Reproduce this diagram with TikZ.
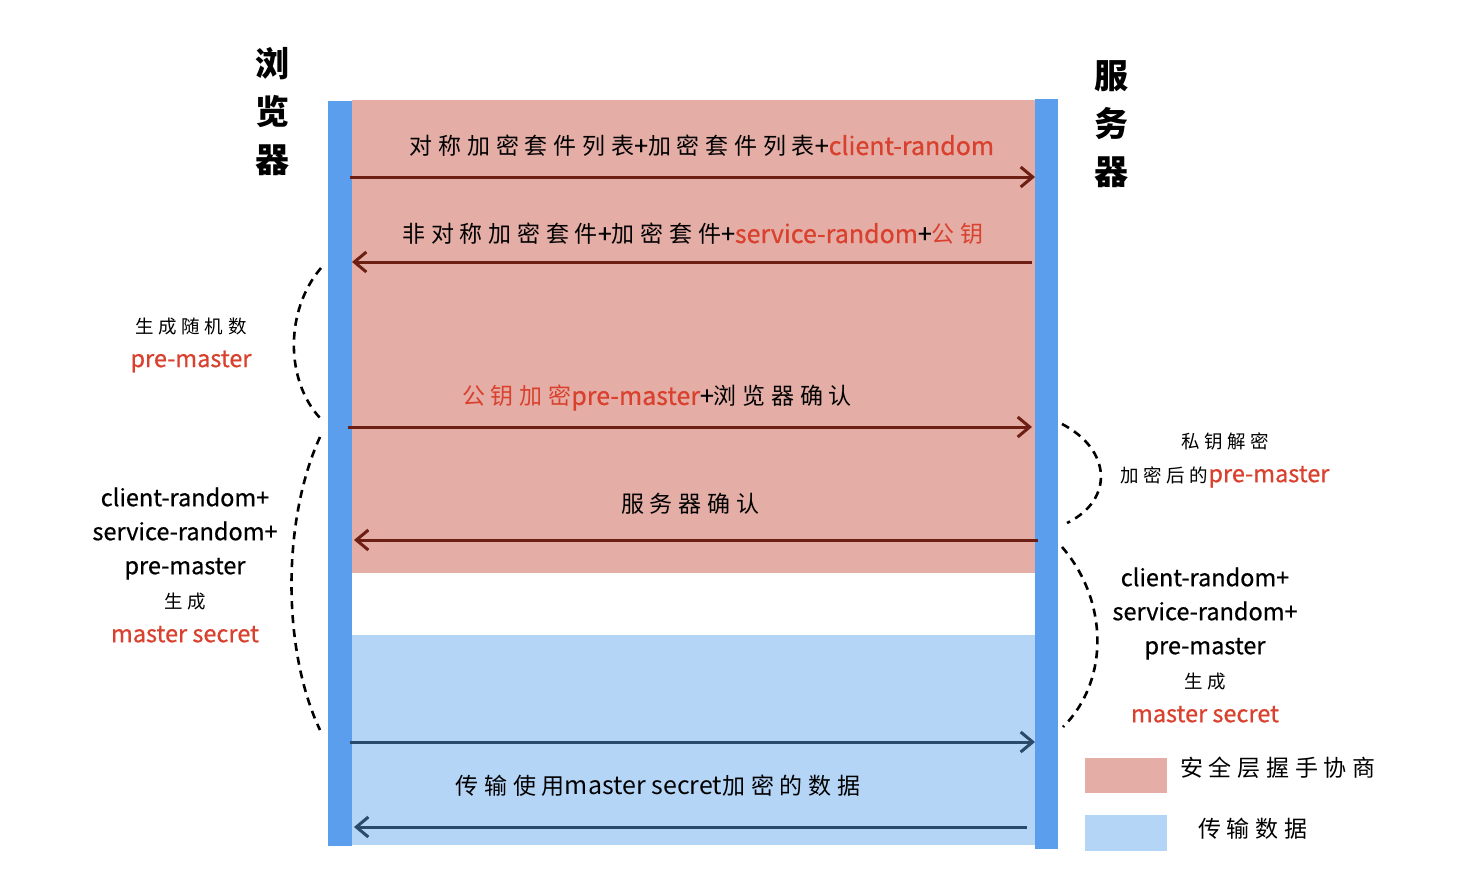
\documentclass[tikz,border=0pt]{standalone}
\usepackage{fontspec}
\setmainfont{Noto Sans CJK SC}
\newfontfamily\zhfam[LetterSpace=25]{Noto Sans CJK SC}
\newfontfamily\latfam[FakeBold=0.6]{Noto Sans CJK SC}
\newcommand\zhA[1]{{\zhfam\fontsize{23}{30}\selectfont #1}}
\newcommand\zhB[1]{{\zhfam\fontsize{18.5}{34}\selectfont #1}}
\newcommand\laA[1]{{\latfam\fontsize{25}{30}\selectfont #1}}
\newcommand\laB[1]{{\latfam\fontsize{23.5}{34}\selectfont #1}}
\usetikzlibrary{arrows.meta}
\definecolor{pinkbg}{HTML}{E4ADA5}
\definecolor{bluebg}{HTML}{B5D5F7}
\definecolor{barblue}{HTML}{5C9EEE}
\definecolor{redtxt}{HTML}{D9412E}
\definecolor{darkred}{HTML}{6E1F14}
\definecolor{darkblue}{HTML}{2B4A6A}
\tikzset{
  msgred/.style={draw=darkred, line width=3pt, -{Straight Barb[length=12pt,width=20pt,line width=3pt]}},
  msgblue/.style={draw=darkblue, line width=3pt, -{Straight Barb[length=12pt,width=20pt,line width=3pt]}},
  lbl/.style={inner sep=0pt, font=\fontsize{25}{30}\selectfont},
  note/.style={inner sep=0pt, font=\fontsize{23.5}{34}\selectfont, align=center},
  title/.style={inner sep=0pt, font=\fontsize{34}{48}\selectfont\bfseries, align=center},
  brace/.style={draw=black, line width=2.6pt, dash pattern=on 8pt off 6pt}
}
\begin{document}
\begin{tikzpicture}[x=1pt,y=-1pt]
\useasboundingbox[fill=white] (0,0) rectangle (1458,870);
% backgrounds
\fill[pinkbg] (352,100) rectangle (1035,573);
\fill[bluebg] (352,635) rectangle (1035,845);
\fill[barblue] (328,101) rectangle (352,846);
\fill[barblue] (1035,99) rectangle (1058,849);
% titles
\node[title] (browser) at (272,112) {浏\\览\\器};
\node[title] (server) at (1111,124) {服\\务\\器};
% message endpoints
\coordinate (m1s) at (350,177); \coordinate (m1e) at (1035,177);
\coordinate (m2s) at (1032,262); \coordinate (m2e) at (352,262);
\coordinate (m3s) at (348,427); \coordinate (m3e) at (1032,427);
\coordinate (m4s) at (1038,540); \coordinate (m4e) at (354,540);
\coordinate (m5s) at (350,742); \coordinate (m5e) at (1035,742);
\coordinate (m6s) at (1027,827); \coordinate (m6e) at (354,827);
\draw[msgred] (m1s) -- (m1e);
\draw[msgred] (m2s) -- (m2e);
\draw[msgred] (m3s) -- (m3e);
\draw[msgred] (m4s) -- (m4e);
\draw[msgblue] (m5s) -- (m5e);
\draw[msgblue] (m6s) -- (m6e);
% message labels
\node[lbl] (l1) at (702,146) {\zhA{对称加密套件列表}\laA{+}\zhA{加密套件列表}\laA{+\textcolor{redtxt}{client-random}}};
\node[lbl] (l2) at (693,234) {\zhA{非对称加密套件}\laA{+}\zhA{加密套件}\laA{+\textcolor{redtxt}{service-random}+}\textcolor{redtxt}{\zhA{公钥}}};
\node[lbl] (l3) at (657,398) {\textcolor{redtxt}{\zhA{公钥加密}\laA{pre-master}}\laA{+}\zhA{浏览器确认}};
\node[lbl] (l4) at (690,504) {\zhA{服务器确认}};
\node[lbl] (l5) at (658,786) {\zhA{传输使用}\laA{\fontspec{Noto Sans CJK SC}master secret}\zhA{加密的数据}};
% left notes
\node[note] (n1) at (191,345) {\zhB{生成随机数}\\\laB{\textcolor{redtxt}{pre-master}}};
\node[note] (n2) at (185,565) {\laB{client-random+}\\\laB{service-random+}\\\laB{pre-master}\\\zhB{生成}\\\laB{\textcolor{redtxt}{master secret}}};
% right notes
\node[note] (n3) at (1225,460) {\zhB{私钥解密}\\\zhB{加密后的}\laB{\textcolor{redtxt}{pre-master}}};
\node[note] (n4) at (1205,645) {\laB{client-random+}\\\laB{service-random+}\\\laB{pre-master}\\\zhB{生成}\\\laB{\textcolor{redtxt}{master secret}}};
% braces
\coordinate (b1a) at (321,268); \coordinate (b1b) at (320,418);
\coordinate (b2a) at (320,437); \coordinate (b2b) at (320,730);
\coordinate (b3a) at (1062,424); \coordinate (b3b) at (1067,523);
\coordinate (b4a) at (1062,547); \coordinate (b4b) at (1063,727);
\draw[brace] (b1a) .. controls (285,310) and (285,380) .. (b1b);
\draw[brace] (b2a) .. controls (282,520) and (282,650) .. (b2b);
\draw[brace] (b3a) .. controls (1112,450) and (1114,500) .. (b3b);
\draw[brace] (b4a) .. controls (1108,600) and (1110,680) .. (b4b);
% legend
\node[fill=pinkbg, minimum width=82pt, minimum height=35pt, inner sep=0pt] (k1) at (1126,775.5) {};
\node[fill=bluebg, minimum width=82pt, minimum height=36pt, inner sep=0pt] (k2) at (1126,833) {};
\node[lbl, anchor=west] (k1t) at (1180,768) {\zhA{安全层握手协商}};
\node[lbl, anchor=west] (k2t) at (1198,829) {\zhA{传输数据}};
\end{tikzpicture}
\end{document}
